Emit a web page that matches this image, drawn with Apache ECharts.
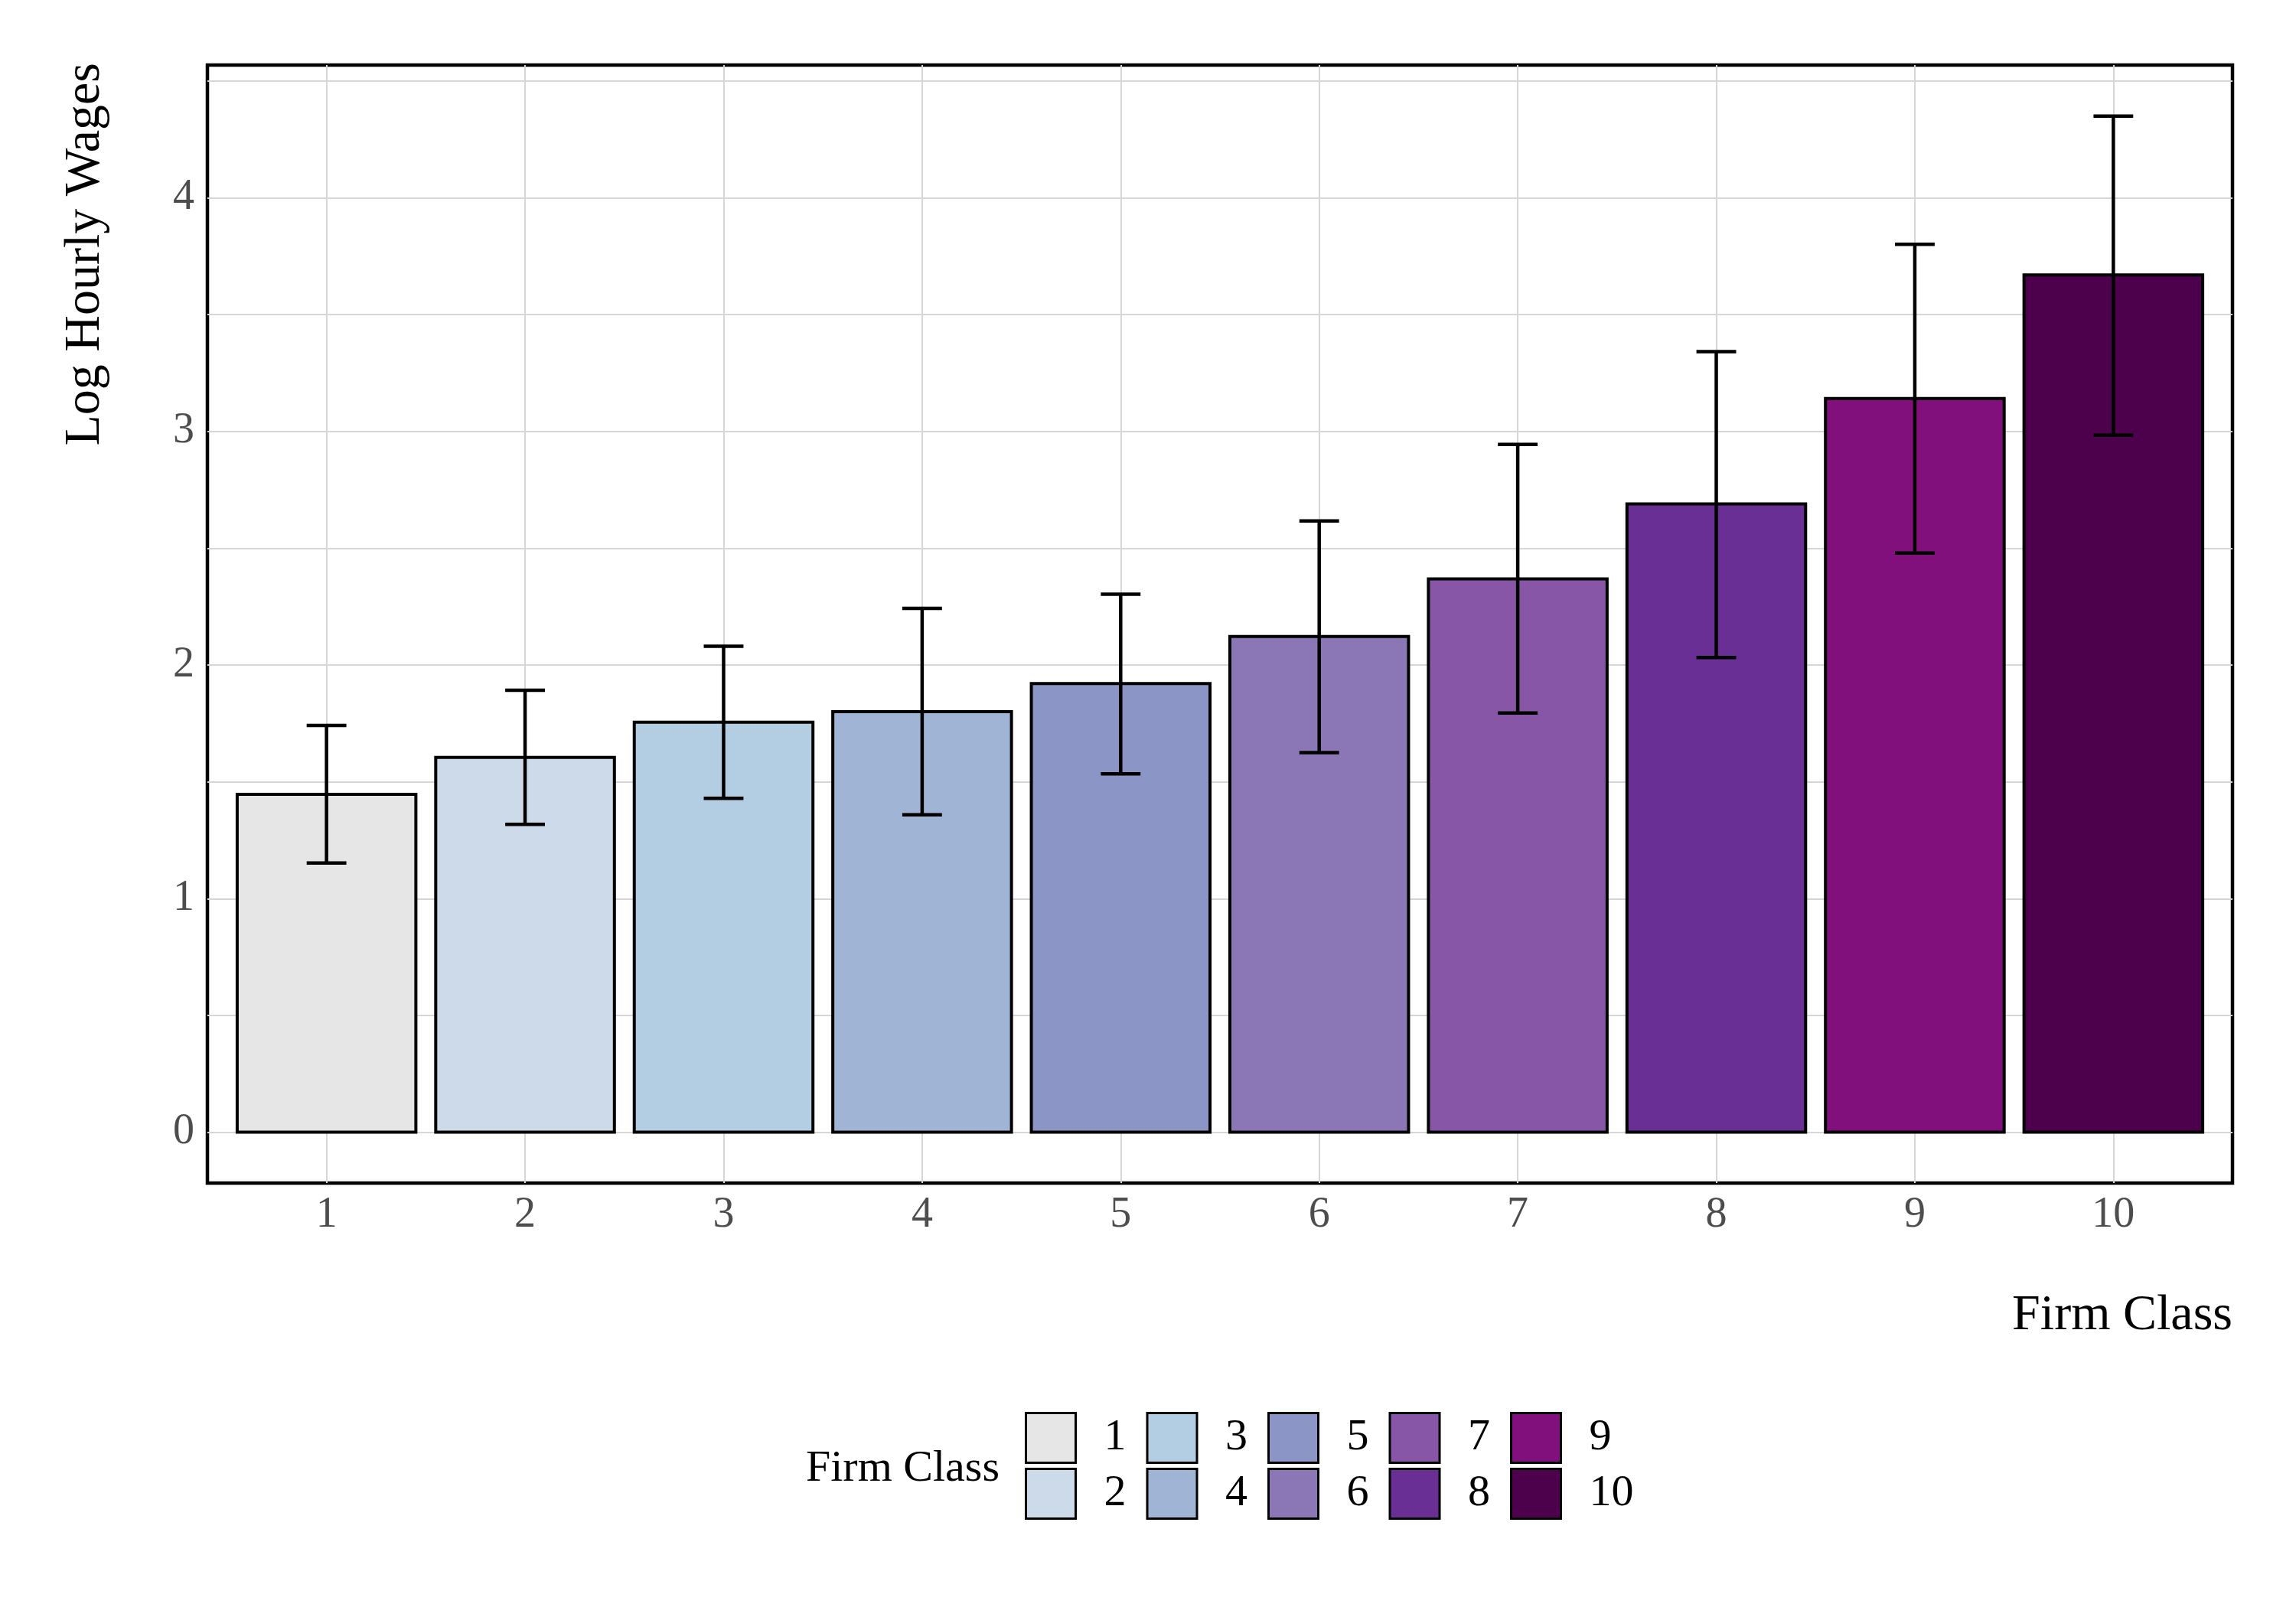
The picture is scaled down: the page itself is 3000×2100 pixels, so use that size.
<!DOCTYPE html>
<html>
<head>
<meta charset="utf-8">
<script src="https://cdn.jsdelivr.net/npm/echarts@6/dist/echarts.min.js"></script>
<style>
html,body{margin:0;padding:0;background:#fff;}
#chart{width:3000px;height:2100px;}
</style>
</head>
<body>
<div id="chart"></div>
<script>
const classes = ['1','2','3','4','5','6','7','8','9','10'];
const meanWage = [1.446, 1.604, 1.755, 1.800, 1.920, 2.122, 2.368, 2.689, 3.140, 3.669];
const ciLow    = [1.152, 1.318, 1.429, 1.359, 1.534, 1.625, 1.794, 2.032, 2.479, 2.983];
const ciHigh   = [1.741, 1.892, 2.080, 2.242, 2.303, 2.616, 2.944, 3.341, 3.800, 4.349];
const colors = ['#e6e6e6','#cddaea','#b3cde3','#a0b4d6','#8c96c6','#8b76b6','#8856a7','#6a2f94','#810f7c','#4d004b'];
const xTickValues = [1,2,3,4,5,6,7,8,9,10];
const yLabelValues = [0,1,2,3,4];
const yGridValues = [0,0.5,1,1.5,2,2.5,3,3.5,4,4.5];

const FONT = 'Liberation Serif';
const chart = echarts.init(document.getElementById('chart'), null, {renderer:'canvas', devicePixelRatio:1});

function renderBar(params, api) {
  const x = api.value(0), m = api.value(1), lo = api.value(2), hi = api.value(3);
  const p0 = api.coord([x - 0.45, m]);
  const p1 = api.coord([x + 0.45, 0]);
  const top = api.coord([x, hi]);
  const bot = api.coord([x, lo]);
  const wl = api.coord([x - 0.1, hi])[0];
  const wr = api.coord([x + 0.1, hi])[0];
  const ls = {stroke:'#000', lineWidth:4.5};
  return {
    type:'group',
    children:[
      {type:'rect', shape:{x:p0[0], y:p0[1], width:p1[0]-p0[0], height:p1[1]-p0[1]},
       style:{fill:api.visual('color'), stroke:'#000', lineWidth:4}},
      {type:'line', shape:{x1:top[0], y1:top[1], x2:bot[0], y2:bot[1]}, style:ls},
      {type:'line', shape:{x1:wl, y1:top[1], x2:wr, y2:top[1]}, style:ls},
      {type:'line', shape:{x1:wl, y1:bot[1], x2:wr, y2:bot[1]}, style:ls}
    ]
  };
}

const series = classes.map((c, i) => ({
  name: c,
  type: 'custom',
  renderItem: renderBar,
  itemStyle: {color: colors[i]},
  encode: {x: 0, y: [1,2,3]},
  data: [[i + 1, meanWage[i], ciLow[i], ciHigh[i]]],
  z: 3,
  silent: true
}));

const legendCommon = {
  orient:'horizontal',
  icon:'rect',
  itemWidth:65,
  itemHeight:65,
  itemGap:26,
  selectedMode:false,
  itemStyle:{borderColor:'#000', borderWidth:3},
  textStyle:{fontFamily:FONT, fontSize:58, color:'#000', padding:[0,0,0,32]},
  padding:0
};

chart.setOption({
  backgroundColor:'#fff',
  animation:false,
  grid:{left:271, right:83, top:85, bottom:554, show:true, borderColor:'#000', borderWidth:4.5, backgroundColor:'transparent'},
  xAxis:{
    type:'value', min:0.4, max:10.6,
    axisLine:{show:false},
    axisTick:{show:false, customValues:xTickValues},
    axisLabel:{customValues:xTickValues, fontFamily:FONT, fontSize:56, color:'#4d4d4d', margin:14},
    splitLine:{show:true, lineStyle:{color:'#d6d6d6', width:2}}
  },
  yAxis:{
    type:'value', min:-0.2175, max:4.5675,
    axisLine:{show:false},
    axisTick:{show:false, customValues:yGridValues},
    axisLabel:{customValues:yLabelValues, fontFamily:FONT, fontSize:56, color:'#4d4d4d', margin:17},
    splitLine:{show:true, lineStyle:{color:'#d6d6d6', width:2}}
  },
  legend:[
    Object.assign({}, legendCommon, {left:1339, top:1845, data:['1','3','5','7','9']}),
    Object.assign({}, legendCommon, {left:1339, top:1918, data:['2','4','6','8','10']})
  ],
  graphic:[
    {type:'text', x:112, y:82, rotation:Math.PI/2,
     style:{text:'Log Hourly Wages', fontFamily:FONT, fontSize:66, fill:'#000', align:'right', verticalAlign:'middle'}},
    {type:'text', x:2917, y:1720,
     style:{text:'Firm Class', fontFamily:FONT, fontSize:66, fill:'#000', align:'right', verticalAlign:'middle'}},
    {type:'text', x:1053, y:1920,
     style:{text:'Firm Class', fontFamily:FONT, fontSize:58, fill:'#000', align:'left', verticalAlign:'middle'}}
  ],
  series: series
});
</script>
</body>
</html>
